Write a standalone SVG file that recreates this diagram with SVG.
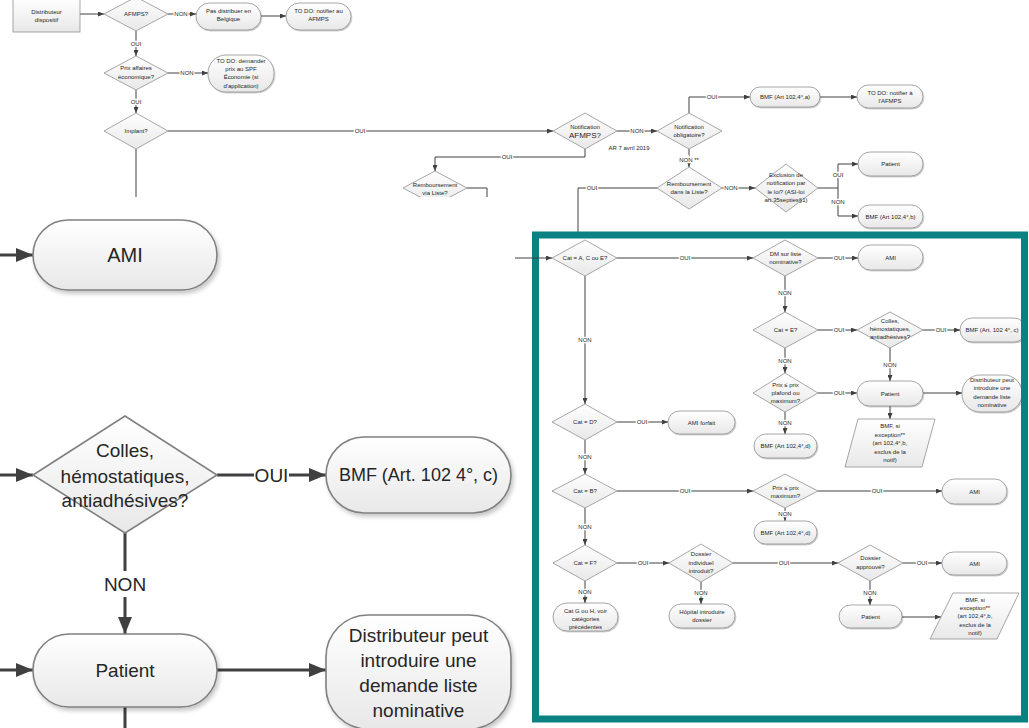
<svg xmlns="http://www.w3.org/2000/svg" width="1029" height="728" viewBox="0 0 1029 728">
<defs>
<linearGradient id="g" x1="0" y1="0" x2="0" y2="1"><stop offset="0" stop-color="#ffffff"/><stop offset="1" stop-color="#e8e8e8"/></linearGradient>
<filter id="sh" x="-10%" y="-10%" width="130%" height="140%"><feDropShadow dx="0.8" dy="1" stdDeviation="0.7" flood-color="#000" flood-opacity="0.25"/></filter>
<filter id="SH" x="-10%" y="-10%" width="130%" height="140%"><feDropShadow dx="2" dy="3" stdDeviation="2" flood-color="#000" flood-opacity="0.22"/></filter>
<marker id="a" markerUnits="userSpaceOnUse" markerWidth="6" markerHeight="5" refX="6" refY="2.5" orient="auto"><path d="M0,0 L6,2.5 L0,5 z" fill="#404040"/></marker>
<marker id="A" markerUnits="userSpaceOnUse" markerWidth="17" markerHeight="14" refX="17" refY="7" orient="auto"><path d="M0,0 L17,7 L0,14 z" fill="#404040"/></marker>
</defs>
<style>
.s{fill:url(#g);stroke:#8a8a8a;stroke-width:.75}
.S{fill:url(#g);stroke:#808080;stroke-width:1.6}
.c{fill:none;stroke:#404040;stroke-width:1}
.ca{fill:none;stroke:#404040;stroke-width:1;marker-end:url(#a)}
.C{fill:none;stroke:#404040;stroke-width:3}
.CA{fill:none;stroke:#404040;stroke-width:3;marker-end:url(#A)}
text{font-family:"Liberation Sans",Arial,sans-serif;fill:#262626;text-anchor:middle}
.t{font-size:6px}
.b{font-size:8px}
.l{font-size:6px;stroke:#fff;stroke-width:2.5;paint-order:stroke}
.T{font-size:19px}
.L{font-size:19px}
.w{fill:#fff}
</style>
<rect width="1029" height="728" fill="#fff"/>

<!-- background connectors -->
<g id="connectors-bg">
<path class="ca" d="M80,14 H104"/>
<path class="ca" d="M168,14 H196"/>
<path class="ca" d="M261,16 H286"/>
<path class="ca" d="M136,31 V56"/>
<path class="ca" d="M168,73 H208"/>
<path class="ca" d="M136,90 V113"/>
<path class="ca" d="M168,131 H553"/>
<path class="c" d="M136,149 V197"/>
<path class="ca" d="M617,131 H657"/>
<path class="ca" d="M585,149 V157 H435 V171"/>
<path class="c" d="M467,188 H487 V197"/>
<path class="ca" d="M689,113 V97 H750"/>
<path class="ca" d="M820,97 H857"/>
<path class="ca" d="M689,149 V167"/>
<path class="ca" d="M722,188 H755"/>
<path class="c" d="M818,188 H838"/>
<path class="ca" d="M838,188 V164 H858"/>
<path class="ca" d="M838,188 V216 H858"/>
<path class="c" d="M657,188 H578 V232"/>
<text class="l" x="181" y="16">NON</text>
<text class="l" x="136" y="46">OUI</text>
<text class="l" x="187" y="75">NON</text>
<text class="l" x="136" y="104">OUI</text>
<text class="l" x="360" y="133">OUI</text>
<text class="l" x="637" y="133">NON</text>
<text class="l" x="507" y="159">OUI</text>
<text class="l" x="712" y="99">OUI</text>
<text class="l" x="689" y="162">NON **</text>
<text class="l" x="731" y="190">NON</text>
<text class="l" x="838" y="177">OUI</text>
<text class="l" x="838" y="204">NON</text>
<text class="l" x="592" y="190">OUI</text>
</g>

<!-- background nodes -->
<g id="n-distributeur"><rect class="s" x="13" y="-2" width="67" height="34"/><text class="t" x="46.5" y="13.5">Distributeur</text><text class="t" x="46.5" y="21.5">dispositif</text></g>
<g id="n-afmps"><polygon class="s" points="104,14 136,-3 168,14 136,31"/><text class="t" x="136" y="16">AFMPS?</text></g>
<g id="n-pas-distribuer"><rect class="s" filter="url(#sh)" x="196" y="3" width="65" height="27" rx="13.5"/><text class="t" x="228.5" y="13">Pas distribuer en</text><text class="t" x="228.5" y="21">Belgique</text></g>
<g id="n-todo-afmps"><rect class="s" filter="url(#sh)" x="286" y="3" width="65" height="27" rx="13.5"/><text class="t" x="318.5" y="13">TO DO: notifier au</text><text class="t" x="318.5" y="21">AFMPS</text></g>
<g id="n-prix-affaires"><polygon class="s" points="104,73 136,56 168,73 136,90"/><text class="t" x="136" y="70">Prix affaires</text><text class="t" x="136" y="79">économique?</text></g>
<g id="n-todo-spf"><rect class="s" filter="url(#sh)" x="208" y="55" width="66" height="37" rx="18"/><text class="t" x="241" y="63">TO DO: demander</text><text class="t" x="241" y="71">prix au SPF</text><text class="t" x="241" y="79">Économie (si</text><text class="t" x="241" y="88">d'application)</text></g>
<g id="n-implant"><polygon class="s" points="104,131 136,113 168,131 136,149"/><text class="t" x="136" y="133">Implant?</text></g>
<g id="n-notif-afmps"><polygon class="s" points="553,131 585,113 617,131 585,149"/><text class="t" x="585" y="129">Notification</text><text class="b" x="585" y="138">AFMPS?</text></g>
<g id="n-ar"><text class="t" x="629" y="150">AR 7 avril 2019</text></g>
<g id="n-notif-oblig"><polygon class="s" points="657,131 689,113 722,131 689,149"/><text class="t" x="689" y="129">Notification</text><text class="t" x="689" y="137">obligatoire?</text></g>
<g id="n-bmf-a"><rect class="s" filter="url(#sh)" x="750" y="87" width="70" height="20" rx="10"/><text class="t" x="785" y="99">BMF (Art 102,4°,a)</text></g>
<g id="n-todo-lafmps"><rect class="s" filter="url(#sh)" x="857" y="85" width="66" height="23" rx="11.5"/><text class="t" x="890" y="95">TO DO: notifier à</text><text class="t" x="890" y="103">l'AFMPS</text></g>
<g id="n-remb-via"><polygon class="s" points="403,188 435,171 467,188 435,205"/><text class="t" x="435" y="187">Remboursement</text><text class="t" x="435" y="195">via Liste?</text></g>
<g id="n-remb-dans"><polygon class="s" points="657,188 689,167 722,188 689,209"/><text class="t" x="689" y="186">Remboursement</text><text class="t" x="689" y="194">dans la Liste?</text></g>
<g id="n-exclusion"><polygon class="s" points="755,188 786,164 818,188 786,212"/><text class="t" x="786" y="177">Exclusion de</text><text class="t" x="786" y="185">notification par</text><text class="t" x="786" y="194">le loi? (ASI-loi</text><text class="t" x="786" y="202">art 35septies§1)</text></g>
<g id="n-patient-top"><rect class="s" filter="url(#sh)" x="858" y="152" width="65" height="24" rx="12"/><text class="t" x="890.5" y="166">Patient</text></g>
<g id="n-bmf-b"><rect class="s" filter="url(#sh)" x="858" y="205" width="65" height="23" rx="11.5"/><text class="t" x="890.5" y="218.5">BMF (Art 102,4°,b)</text></g>

<!-- magnified panel -->
<rect x="0" y="197" width="515" height="531" fill="#fff"/>
<g id="connectors-zoom">
<path class="CA" d="M0,255 H33"/>
<path class="CA" d="M0,475 H33"/>
<path class="CA" d="M217,475 H326"/>
<path class="CA" d="M125,533 V634"/>
<path class="CA" d="M0,670 H33"/>
<path class="CA" d="M217,670 H326"/>
<path class="C" d="M125,707 V728"/>
<rect class="w" x="254" y="463" width="35" height="24"/>
<text class="L" x="271.5" y="482">OUI</text>
<rect class="w" x="104" y="571" width="42" height="26"/>
<text class="L" x="125" y="591">NON</text>
</g>
<g id="z-ami"><rect class="S" filter="url(#SH)" x="33" y="220" width="184" height="70" rx="35"/><text class="T" x="125" y="262" style="font-size:20px">AMI</text></g>
<g id="z-colles"><polygon class="S" points="33,475 125,416 217,475 125,533"/><text class="T" x="125" y="457">Colles,</text><text class="T" x="125" y="483">hémostatiques,</text><text class="T" x="125" y="507">antiadhésives?</text></g>
<g id="z-bmf"><rect class="S" filter="url(#SH)" x="326" y="437" width="185" height="76" rx="38"/><text class="T" x="418.5" y="481" style="font-size:18px">BMF (Art. 102 4°, c)</text></g>
<g id="z-patient"><rect class="S" filter="url(#SH)" x="33" y="634" width="184" height="73" rx="36"/><text class="T" x="125" y="677">Patient</text></g>
<g id="z-distributeur"><rect class="S" filter="url(#SH)" x="326" y="615" width="185" height="114" rx="42"/><text class="T" x="418.5" y="642">Distributeur peut</text><text class="T" x="418.5" y="667">introduire une</text><text class="T" x="418.5" y="692">demande liste</text><text class="T" x="418.5" y="717">nominative</text></g>

<!-- inset -->
<rect x="535.5" y="235" width="489" height="484" fill="#fff"/>
<g id="connectors-inset">
<path class="ca" d="M617,258 H753"/>
<path class="ca" d="M818,258 H858"/>
<path class="ca" d="M785,276 V312"/>
<path class="ca" d="M818,330 H857"/>
<path class="ca" d="M923,330 H960"/>
<path class="ca" d="M785,348 V373"/>
<path class="ca" d="M890,348 V381"/>
<path class="ca" d="M818,393 H857"/>
<path class="ca" d="M923,393 H962"/>
<path class="ca" d="M890,406 V419"/>
<path class="ca" d="M785,412 V434"/>
<path class="ca" d="M585,276 V404"/>
<path class="ca" d="M617,422 H668"/>
<path class="ca" d="M585,440 V474"/>
<path class="ca" d="M617,491 H753"/>
<path class="ca" d="M818,491 H942"/>
<path class="ca" d="M785,508 V521"/>
<path class="ca" d="M585,508 V545"/>
<path class="ca" d="M617,563 H669"/>
<path class="ca" d="M733,563 H838"/>
<path class="ca" d="M903,563 H942"/>
<path class="ca" d="M870,581 V605"/>
<path class="ca" d="M902,617 H941"/>
<path class="ca" d="M585,581 V603"/>
<path class="ca" d="M701,582 V604"/>
<text class="l" x="685" y="260">OUI</text>
<text class="l" x="839" y="260">OUI</text>
<text class="l" x="785" y="295">NON</text>
<text class="l" x="839" y="332">OUI</text>
<text class="l" x="941" y="332">OUI</text>
<text class="l" x="785" y="363">NON</text>
<text class="l" x="890" y="367">NON</text>
<text class="l" x="839" y="395">OUI</text>
<text class="l" x="785" y="425">NON</text>
<text class="l" x="585" y="342">NON</text>
<text class="l" x="642" y="424">OUI</text>
<text class="l" x="585" y="459">NON</text>
<text class="l" x="685" y="493">OUI</text>
<text class="l" x="877" y="493">OUI</text>
<text class="l" x="785" y="516">NON</text>
<text class="l" x="585" y="529">NON</text>
<text class="l" x="643" y="565">OUI</text>
<text class="l" x="784" y="565">OUI</text>
<text class="l" x="922" y="565">OUI</text>
<text class="l" x="870" y="595">NON</text>
<text class="l" x="585" y="594">NON</text>
<text class="l" x="701" y="595">NON</text>
</g>
<g id="i-cat-ace"><polygon class="s" points="552,258 585,240 617,258 585,276"/><text class="t" x="585" y="260">Cat = A, C ou E?</text></g>
<g id="i-dm"><polygon class="s" points="753,258 785,240 818,258 785,276"/><text class="t" x="785.5" y="256">DM sur liste</text><text class="t" x="785.5" y="264">nominative?</text></g>
<g id="i-ami1"><rect class="s" filter="url(#sh)" x="858" y="245" width="65" height="25" rx="12.5"/><text class="t" x="890.5" y="260">AMI</text></g>
<g id="i-cat-e"><polygon class="s" points="753,330 785,312 818,330 785,348"/><text class="t" x="785.5" y="332">Cat = E?</text></g>
<g id="i-colles"><polygon class="s" points="857,330 890,312 923,330 890,348"/><text class="t" x="890" y="323">Colles,</text><text class="t" x="890" y="331">hémostatiques,</text><text class="t" x="890" y="339">antiadhésives?</text></g>
<g id="i-bmf-c"><rect class="s" filter="url(#sh)" x="960" y="318" width="66" height="24" rx="12"/><text class="t" x="992" y="332">BMF (Art. 102 4°, c)</text></g>
<g id="i-prix-plafond"><polygon class="s" points="753,393 785,373 818,393 785,412"/><text class="t" x="785.5" y="387">Prix ≤ prix</text><text class="t" x="785.5" y="395">plafond ou</text><text class="t" x="785.5" y="403">maximum?</text></g>
<g id="i-patient1"><rect class="s" filter="url(#sh)" x="857" y="381" width="66" height="25" rx="12.5"/><text class="t" x="890" y="395.5">Patient</text></g>
<g id="i-distributeur"><rect class="s" filter="url(#sh)" x="962" y="375" width="60" height="37" rx="18"/><text class="t" x="992" y="382">Distributeur peut</text><text class="t" x="992" y="390">introduire une</text><text class="t" x="992" y="399">demande liste</text><text class="t" x="992" y="407">nominative</text></g>
<g id="i-bmf-exc1"><polygon class="s" points="858,419 935,419 922,467 845,467"/><text class="t" x="890" y="428">BMF, si</text><text class="t" x="890" y="436.5">exception**</text><text class="t" x="890" y="445">(art 102,4°,b,</text><text class="t" x="890" y="453.5">exclus de la</text><text class="t" x="890" y="462">notif)</text></g>
<g id="i-bmf-d1"><rect class="s" filter="url(#sh)" x="754" y="434" width="63" height="24" rx="12"/><text class="t" x="785.5" y="448">BMF (Art 102,4°,d)</text></g>
<g id="i-cat-d"><polygon class="s" points="552,422 585,404 617,422 585,440"/><text class="t" x="585" y="424">Cat = D?</text></g>
<g id="i-ami-forfait"><rect class="s" filter="url(#sh)" x="668" y="411" width="67" height="23" rx="11.5"/><text class="t" x="701.5" y="424.5">AMI forfait</text></g>
<g id="i-cat-b"><polygon class="s" points="552,491 585,474 617,491 585,508"/><text class="t" x="585" y="493">Cat = B?</text></g>
<g id="i-prix-max"><polygon class="s" points="753,491 785,474 818,491 785,508"/><text class="t" x="785.5" y="490">Prix ≤ prix</text><text class="t" x="785.5" y="498">maximum?</text></g>
<g id="i-ami2"><rect class="s" filter="url(#sh)" x="942" y="479" width="65" height="25" rx="12.5"/><text class="t" x="974.5" y="493.5">AMI</text></g>
<g id="i-bmf-d2"><rect class="s" filter="url(#sh)" x="754" y="521" width="63" height="23" rx="11.5"/><text class="t" x="785.5" y="534.5">BMF (Art 102,4°,d)</text></g>
<g id="i-cat-f"><polygon class="s" points="553,563 585,545 617,563 585,581"/><text class="t" x="585" y="565">Cat = F?</text></g>
<g id="i-dossier-ind"><polygon class="s" points="669,563 701,544 733,563 701,582"/><text class="t" x="701" y="556">Dossier</text><text class="t" x="701" y="565">individuel</text><text class="t" x="701" y="573">introduit?</text></g>
<g id="i-dossier-app"><polygon class="s" points="838,563 870,545 903,563 870,581"/><text class="t" x="870.5" y="560">Dossier</text><text class="t" x="870.5" y="569">approuvé?</text></g>
<g id="i-ami3"><rect class="s" filter="url(#sh)" x="942" y="552" width="65" height="23" rx="11.5"/><text class="t" x="974.5" y="565.5">AMI</text></g>
<g id="i-patient2"><rect class="s" filter="url(#sh)" x="839" y="605" width="63" height="23" rx="11.5"/><text class="t" x="870.5" y="618.5">Patient</text></g>
<g id="i-bmf-exc2"><polygon class="s" points="953,593 1019,593 997,639 930,639"/><text class="t" x="975" y="602">BMF, si</text><text class="t" x="975" y="610">exception**</text><text class="t" x="975" y="618">(art 102,4°,b,</text><text class="t" x="975" y="627">exclus de la</text><text class="t" x="975" y="635">notif)</text></g>
<g id="i-cat-gh"><rect class="s" filter="url(#sh)" x="553" y="603" width="65" height="28" rx="14"/><text class="t" x="585.5" y="613">Cat G ou H, voir</text><text class="t" x="585.5" y="621">catégories</text><text class="t" x="585.5" y="629">précédentes</text></g>
<g id="i-hopital"><rect class="s" filter="url(#sh)" x="669" y="604" width="66" height="24" rx="12"/><text class="t" x="702" y="614">Hôpital introduire</text><text class="t" x="702" y="622">dossier</text></g>
<rect x="535.5" y="235" width="489" height="484" fill="none" stroke="#0a8282" stroke-width="7"/>
<g id="connector-in"><path class="ca" d="M515,258 H552"/></g>
</svg>
